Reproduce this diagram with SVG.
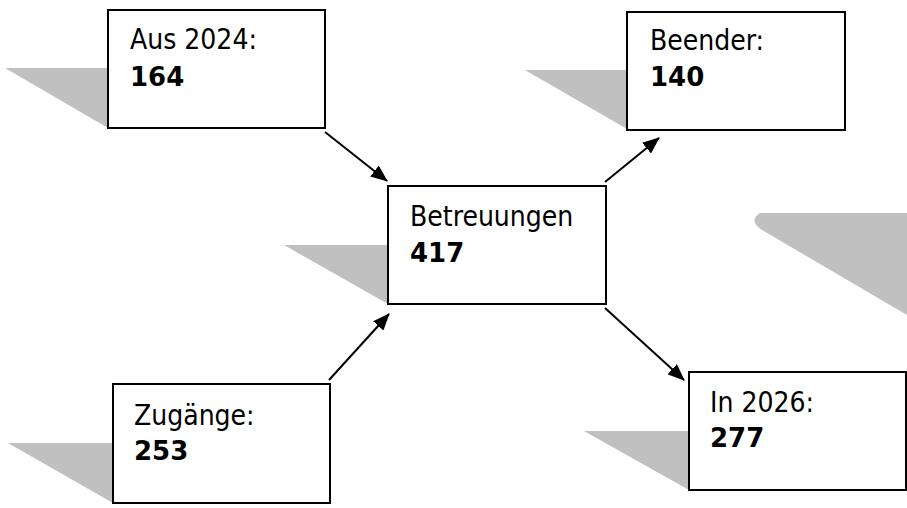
<svg xmlns="http://www.w3.org/2000/svg" width="907" height="508" viewBox="0 0 907 508">
<defs>
<style>
.box{fill:#fff;stroke:#000;stroke-width:2}
.sh{fill:#c0c0c0;stroke:none}
.lbl{font-family:"DejaVu Sans Condensed","DejaVu Sans",sans-serif;font-stretch:condensed;font-size:28px;fill:#000}
.num{font-family:"DejaVu Sans",sans-serif;font-weight:bold;font-size:26px;fill:#000}
.conn line{stroke:#000;stroke-width:2;marker-end:url(#ah)}
</style>
<marker id="ah" viewBox="0 0 17 14" refX="16" refY="7" markerWidth="17" markerHeight="14" markerUnits="userSpaceOnUse" orient="auto">
<path d="M0,0 L17,7 L0,14 Z" fill="#000"/>
</marker>
</defs>
<rect width="907" height="508" fill="#fff"/>
<path class="sh" d="M760 213 L907 213 L907 315 L762 230 Q748 221 760 213 Z"/>
<g id="aus2024">
<polygon class="sh" points="5,68 108,68 108,128"/>
<rect class="box" x="108" y="10" width="217" height="118"/>
<text class="lbl" x="130" y="49">Aus 2024:</text>
<text class="num" x="130" y="86">164</text>
</g>
<g id="beender">
<polygon class="sh" points="525,70 627,70 627,129"/>
<rect class="box" x="627" y="12" width="218" height="118"/>
<text class="lbl" x="650" y="50">Beender:</text>
<text class="num" x="650" y="86">140</text>
</g>
<g id="betreuungen">
<polygon class="sh" points="284,245 388,245 388,304"/>
<rect class="box" x="388" y="186" width="218" height="118"/>
<text class="lbl" x="410" y="226">Betreuungen</text>
<text class="num" x="410" y="262">417</text>
</g>
<g id="zugaenge">
<polygon class="sh" points="8,443 113,443 113,503"/>
<rect class="box" x="113" y="384" width="217" height="119"/>
<text class="lbl" x="134" y="425">Zugänge:</text>
<text class="num" x="134" y="460">253</text>
</g>
<g id="in2026">
<polygon class="sh" points="584,431 689,431 689,490"/>
<rect class="box" x="689" y="372" width="217" height="118"/>
<text class="lbl" x="710" y="412">In 2026:</text>
<text class="num" x="710" y="447">277</text>
</g>
<g class="conn" id="connectors">
<line x1="325" y1="132" x2="387" y2="181"/>
<line x1="605" y1="182" x2="659" y2="138"/>
<line x1="329" y1="380" x2="389" y2="314"/>
<line x1="605" y1="308" x2="684" y2="380"/>
</g>
</svg>
